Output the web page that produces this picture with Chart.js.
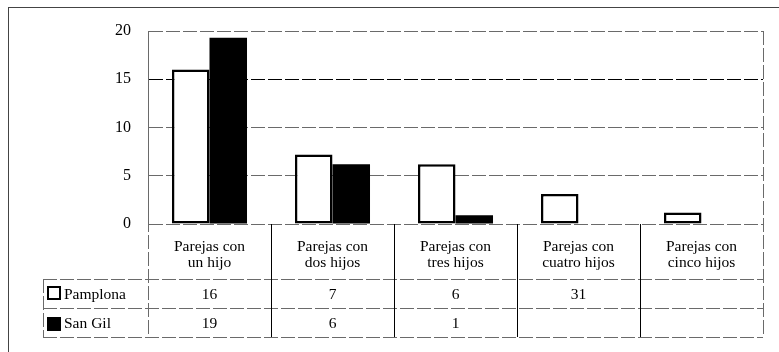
<!DOCTYPE html>
<html><head><meta charset="utf-8">
<script src="https://cdn.jsdelivr.net/npm/chart.js@4/dist/chart.umd.min.js"></script>
<style>html,body{margin:0;padding:0;background:#fff}#wrap{width:779px;height:352px;position:relative}</style>
</head><body><div id="wrap"><canvas id="c" width="779" height="352"></canvas></div>
<script>
const categories = [["Parejas con","un hijo"],["Parejas con","dos hijos"],["Parejas con","tres hijos"],["Parejas con","cuatro hijos"],["Parejas con","cinco hijos"]];
const seriesNames = ["Pamplona","San Gil"];
const pamplona = [16, 7.2, 6.2, 3.1, 1.2];
const sanGil = [19.3, 6.2, 0.9, null, null];
const pamplonaTable = ["16","7","6","31",""];
const sanGilTable = ["19","6","1","",""];
const yTicks = {min:0, max:20, step:5};

const FONT = "'Liberation Serif', 'DejaVu Serif', serif";
const GRAY = "#6a6a6a";
const DASH = [14,3];

const frameAndTable = {
  id:'frameAndTable',
  beforeDraw(chart){
    const ctx = chart.ctx;
    ctx.save();
    ctx.fillStyle='#fff';ctx.fillRect(0,0,chart.width,chart.height);
    ctx.strokeStyle='#444';ctx.lineWidth=1;
    ctx.strokeRect(8.5,7.5,900,500);
    ctx.restore();
  },
  afterDraw(chart){
    const ctx = chart.ctx, a = chart.chartArea, xs = chart.scales.x;
    const n = categories.length;
    const cw = (a.right-a.left)/n;
    const top = a.bottom, r1 = top+55, r2 = r1+29, r3 = r2+29;
    const legL = 43;
    ctx.save();
    ctx.strokeStyle=GRAY; ctx.lineWidth=1; ctx.setLineDash(DASH);
    const hline=(x1,x2,y)=>{ctx.beginPath();ctx.moveTo(x1,y+0.5);ctx.lineTo(x2,y+0.5);ctx.stroke();};
    const vline=(x,y1,y2)=>{ctx.beginPath();ctx.moveTo(x+0.5,y1);ctx.lineTo(x+0.5,y2);ctx.stroke();};
    hline(legL,a.right,r1);hline(legL,a.right,r2);hline(legL,a.right,r3);
    vline(Math.round(a.left),a.top,r3);
    vline(Math.round(a.right),a.top,r3);
    vline(legL,r1,r3);
    ctx.setLineDash([]); ctx.strokeStyle='#000';
    for(let i=1;i<n;i++){const x=Math.round(xs.getPixelForValue(i)-cw/2);vline(x,top,r3);}
    ctx.fillStyle='#000'; ctx.font='15.5px '+FONT; ctx.textAlign='center'; ctx.textBaseline='middle';
    for(let i=0;i<n;i++){
      const cx = xs.getPixelForValue(i);
      ctx.fillText(pamplonaTable[i],cx,(r1+r2)/2+1);
      ctx.fillText(sanGilTable[i],cx,(r2+r3)/2+1);
    }
    ctx.textAlign='left';
    ctx.fillText(seriesNames[0],64,(r1+r2)/2+1);
    ctx.fillText(seriesNames[1],64,(r2+r3)/2+1);
    ctx.lineWidth=2; ctx.strokeStyle='#000';
    ctx.strokeRect(48,r1+8,12,12);
    ctx.fillRect(47,r2+9,14,14);
    ctx.restore();
  }
};

new Chart(document.getElementById('c'),{
  type:'bar',
  data:{labels:categories,datasets:[
    {label:seriesNames[0],data:pamplona,backgroundColor:'#fff',borderColor:'#000',borderWidth:2.5,borderSkipped:false},
    {label:seriesNames[1],data:sanGil,backgroundColor:'#000',borderColor:'#000',borderWidth:0}
  ]},
  options:{
    responsive:false,animation:false,
    layout:{padding:{left:0,top:31,right:16,bottom:15}},
    plugins:{legend:{display:false},tooltip:{enabled:false}},
    datasets:{bar:{categoryPercentage:0.61,barPercentage:1.0}},
    scales:{
      x:{
        grid:{display:false,drawTicks:false},
        border:{display:false},
        ticks:{maxRotation:0,autoSkip:false,padding:15,color:'#000',font:{family:FONT,size:15.5,lineHeight:1.03}},
        afterFit(s){s.height=113;}
      },
      y:{
        min:yTicks.min,max:yTicks.max,
        afterFit(s){s.width=148;},
        ticks:{stepSize:yTicks.step,padding:17,color:'#000',font:{family:FONT,size:16}},
        grid:{drawTicks:false,color:(c)=>c.tick && c.tick.value===15?'#000':GRAY,lineWidth:1},
        border:{display:true,color:GRAY,dash:DASH}
      }
    }
  },
  plugins:[frameAndTable]
});
</script></body></html>
